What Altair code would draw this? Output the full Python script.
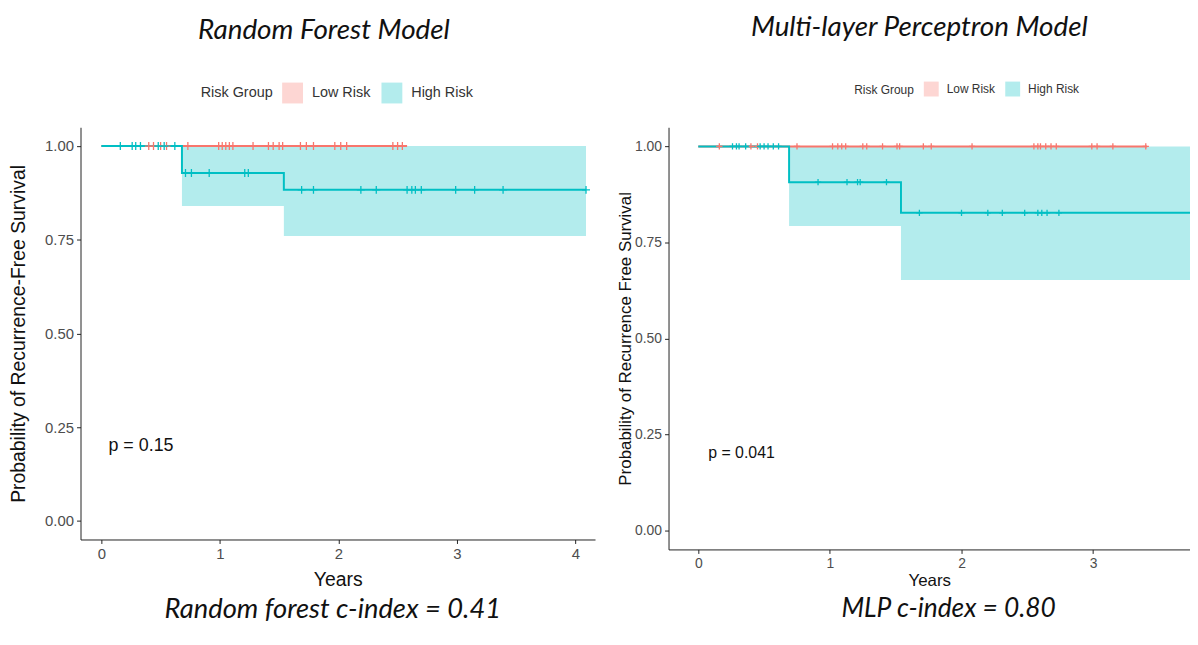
import altair as alt
import pandas as pd

GROUPS = ["Low Risk", "High Risk"]
LINE_COLORS = ["#F8766D", "#00BFC4"]
BAND_COLORS = ["#FDD6D3", "#B3ECED"]
Y_TICKS = [0.0, 0.25, 0.5, 0.75, 1.0]

# ---------------- Random forest panel ----------------
rf_low_time = [0.0, 2.58]
rf_low_surv = [1.0, 1.0]
rf_low_lower = [1.0, 1.0]
rf_low_upper = [1.0, 1.0]
rf_high_time = [0.0, 0.68, 1.54, 4.09]
rf_high_surv = [1.0, 0.928, 0.883, 0.883]
rf_high_lower = [1.0, 0.84, 0.76, 0.76]
rf_high_upper = [1.0, 1.0, 1.0, 1.0]
rf_low_censor = [0.40, 0.44, 0.50, 0.55, 0.73, 0.99, 1.02, 1.05, 1.08, 1.11,
                 1.28, 1.41, 1.45, 1.50, 1.53, 1.68, 1.73, 1.79, 1.97, 2.02,
                 2.07, 2.46, 2.50, 2.54]
rf_high_censor = [0.16, 0.26, 0.29, 0.33, 0.48, 0.53, 0.62, 0.71, 0.76, 0.91,
                  1.21, 1.24, 1.69, 1.79, 2.19, 2.32, 2.58, 2.62, 2.65, 2.70,
                  2.99, 3.15, 3.39, 4.09]
rf_pval_text = ["p = 0.15"]
rf_pval_x = [0.06]
rf_pval_y = [0.20]
rf_title = "Random Forest Model"
rf_caption = ["Random forest c-index = 0.41"]
rf_ytitle = "Probability of Recurrence-Free Survival"
rf_xticks = [0, 1, 2, 3, 4]

# ---------------- MLP panel ----------------
mlp_low_time = [0.0, 3.41]
mlp_low_surv = [1.0, 1.0]
mlp_low_lower = [1.0, 1.0]
mlp_low_upper = [1.0, 1.0]
mlp_high_time = [0.0, 0.69, 1.54, 4.50]
mlp_high_surv = [1.0, 0.907, 0.827, 0.827]
mlp_high_lower = [1.0, 0.793, 0.652, 0.652]
mlp_high_upper = [1.0, 1.0, 1.0, 1.0]
mlp_low_censor = [0.16, 0.40, 0.45, 0.75, 1.02, 1.06, 1.09, 1.12, 1.25, 1.28,
                  1.40, 1.51, 1.53, 1.71, 1.77, 2.08, 2.55, 2.58, 2.60, 2.64,
                  2.68, 2.72, 2.99, 3.03, 3.15, 3.40]
mlp_high_censor = [0.26, 0.29, 0.31, 0.36, 0.47, 0.50, 0.53, 0.57, 0.61, 0.91,
                   1.13, 1.21, 1.23, 1.43, 1.68, 2.00, 2.20, 2.31, 2.48, 2.58,
                   2.61, 2.65, 2.74]
mlp_pval_text = ["p = 0.041"]
mlp_pval_x = [0.075]
mlp_pval_y = [0.20]
mlp_title = "Multi-layer Perceptron Model"
mlp_caption = ["MLP c-index = 0.80"]
mlp_ytitle = "Probability of Recurrence Free Survival"
mlp_xticks = [0, 1, 2, 3]


def step_value(times, values, t):
    v = values[0]
    for ti, vi in zip(times, values):
        if ti <= t:
            v = vi
    return v


def build_frames(low, high, low_c, high_c):
    rows = []
    for name, (t, s, lo, up) in zip(GROUPS, [low, high]):
        for a, b, c, d in zip(t, s, lo, up):
            rows.append({"time": a, "surv": b, "lower": c, "upper": d,
                         "grp": name, "grp2": name})
    curve = pd.DataFrame(rows)
    crow = []
    for name, (t, s, _, _), cens in zip(GROUPS, [low, high], [low_c, high_c]):
        for c in cens:
            crow.append({"time": c, "surv": step_value(t, s, c), "grp2": name})
    return curve, pd.DataFrame(crow)


CROSS = "M-1,0H1M0,-1V1"
LEG_CROSS = "M-1,0H1M0,-0.45V0.45"
LABEL_FONT = "Liberation Sans"
TITLE_FONT = "Lato"


def panel(curve, cens, pval, caption, cfg):
    xs = alt.Scale(domain=cfg["xdom"], nice=False, zero=False)
    ys = alt.Scale(domain=[-0.05, 1.05], nice=False, zero=False)
    xaxis = alt.Axis(title="Years", values=cfg["xticks"], format="d",
                     grid=False, domainColor="#222", tickColor="#222",
                     tickSize=4, labelPadding=3, labelFont=LABEL_FONT,
                     labelFontSize=cfg["tick_fs"], labelColor="#4D4D4D",
                     titleFont=LABEL_FONT, titleFontSize=cfg["axis_fs"],
                     titleFontWeight="normal", titleColor="#111",
                     titleBaseline="middle", titleY=cfg["xtitle_y"])
    yaxis = alt.Axis(title=cfg["ytitle"], values=Y_TICKS, format=".2f",
                     grid=False, domainColor="#222", tickColor="#222",
                     tickSize=4, labelPadding=3, labelFont=LABEL_FONT,
                     labelFontSize=cfg["tick_fs"], labelColor="#4D4D4D",
                     titleFont=LABEL_FONT, titleFontSize=cfg["axis_fs"],
                     titleFontWeight="normal", titleColor="#111",
                     titleBaseline="middle", titleX=cfg["ytitle_x"])

    def X(f):
        return alt.X(f"{f}:Q", scale=xs, axis=xaxis)

    def Y(f):
        return alt.Y(f"{f}:Q", scale=ys, axis=yaxis)

    common_leg = dict(orient="none", legendX=cfg["leg_x"], legendY=cfg["leg_y"],
                      direction="horizontal", title="Risk Group",
                      titleOrient="left", titleAnchor="middle",
                      titleBaseline="middle", titleFont=LABEL_FONT,
                      titleFontSize=cfg["leg_fs"], titleFontWeight="normal",
                      titlePadding=cfg["leg_tpad"], labelFont=LABEL_FONT,
                      labelFontSize=cfg["leg_fs"], labelOffset=cfg["leg_loff"],
                      columnPadding=cfg["leg_cpad"], symbolSize=cfg["leg_sym"],
                      symbolOpacity=1)
    fill_leg = alt.Legend(symbolType="square", symbolStrokeWidth=0,
                          titleColor="#333", labelColor="#333", zindex=0,
                          **common_leg)
    stroke_leg = alt.Legend(symbolType=LEG_CROSS, symbolStrokeWidth=1.5,
                            symbolFillColor="transparent",
                            titleColor="transparent", labelColor="transparent",
                            zindex=1, **common_leg)
    fill_enc = alt.Fill("grp:N", scale=alt.Scale(domain=GROUPS, range=BAND_COLORS),
                        legend=fill_leg)
    stroke_enc = alt.Stroke("grp2:N", scale=alt.Scale(domain=GROUPS, range=LINE_COLORS),
                            legend=stroke_leg)

    band = alt.Chart(curve).mark_area(interpolate="step-after", opacity=1,
                                      clip=True).encode(
        x=X("time"), y=Y("lower"), y2="upper:Q", fill=fill_enc)
    line = alt.Chart(curve).mark_line(interpolate="step-after", strokeWidth=2,
                                      clip=True).encode(
        x=X("time"), y=Y("surv"), stroke=stroke_enc)
    pts = alt.Chart(cens).mark_point(shape=CROSS, filled=False, opacity=1,
                                     size=cfg["cross_size"], strokeWidth=1.3,
                                     clip=True).encode(
        x=X("time"), y=Y("surv"), stroke=stroke_enc)
    ptxt = alt.Chart(pval).mark_text(align="left", baseline="middle",
                                     font=LABEL_FONT, fontSize=cfg["p_fs"],
                                     color="#111").encode(
        x=X("x"), y=Y("y"), text="label:N")
    cap = alt.Chart(caption).mark_text(align="center", baseline="middle",
                                       font=TITLE_FONT, fontStyle="italic",
                                       fontSize=cfg["cap_fs"], color="#111").encode(
        x=alt.value(cfg["cap_x"]), y=alt.value(cfg["cap_y"]), text="caption:N")

    title = alt.TitleParams(cfg["title"], font=TITLE_FONT, fontStyle="italic",
                            fontSize=cfg["title_fs"], fontWeight="normal",
                            color="#111", anchor="middle", frame="group",
                            baseline="alphabetic", offset=cfg["title_off"],
                            dx=cfg["title_dx"])
    return alt.layer(band, line, pts, ptxt, cap).properties(
        width=cfg["w"], height=cfg["h"], title=title)


rf_curve, rf_cens = build_frames(
    (rf_low_time, rf_low_surv, rf_low_lower, rf_low_upper),
    (rf_high_time, rf_high_surv, rf_high_lower, rf_high_upper),
    rf_low_censor, rf_high_censor)
mlp_curve, mlp_cens = build_frames(
    (mlp_low_time, mlp_low_surv, mlp_low_lower, mlp_low_upper),
    (mlp_high_time, mlp_high_surv, mlp_high_lower, mlp_high_upper),
    mlp_low_censor, mlp_high_censor)

rf_p = pd.DataFrame({"x": rf_pval_x, "y": rf_pval_y, "label": rf_pval_text})
mlp_p = pd.DataFrame({"x": mlp_pval_x, "y": mlp_pval_y, "label": mlp_pval_text})
rf_cap = pd.DataFrame({"caption": rf_caption})
mlp_cap = pd.DataFrame({"caption": mlp_caption})

rf_cfg = dict(w=518, h=415, xdom=[-0.176, 4.166], xticks=rf_xticks,
              ytitle=rf_ytitle, tick_fs=15, axis_fs=19.5, p_fs=18, leg_fs=14.5,
              leg_tpad=9, leg_cpad=11, leg_loff=9, leg_sym=441, leg_x=121,
              leg_y=-45, xtitle_y=40, ytitle_x=-62, cross_size=64,
              title=rf_title, title_fs=28, title_off=16, title_dx=-14,
              cap_fs=27.5, cap_x=254, cap_y=486)
mlp_cfg = dict(w=525, h=425, xdom=[-0.226, 3.736], xticks=mlp_xticks,
               ytitle=mlp_ytitle, tick_fs=14, axis_fs=17, p_fs=16, leg_fs=12,
               leg_tpad=9, leg_cpad=10, leg_loff=8, leg_sym=225, leg_x=187,
               leg_y=-46, xtitle_y=31, ytitle_x=-43, cross_size=40,
               title=mlp_title, title_fs=28, title_off=18, title_dx=-10,
               cap_fs=26.5, cap_x=282, cap_y=485)

left = panel(rf_curve, rf_cens, rf_p, rf_cap, rf_cfg)
right = panel(mlp_curve, mlp_cens, mlp_p, mlp_cap, mlp_cfg)

chart = alt.hconcat(left, right, spacing=74, bounds="flush").resolve_scale(
    fill="independent", stroke="independent", x="independent", y="independent"
).resolve_legend(fill="independent", stroke="independent").configure_view(
    stroke=None).properties(padding={"left": 0, "top": 4, "right": 0, "bottom": 0},
                            background="white")

chart.save("out.html", embed_options={"renderer": "svg", "actions": False})
